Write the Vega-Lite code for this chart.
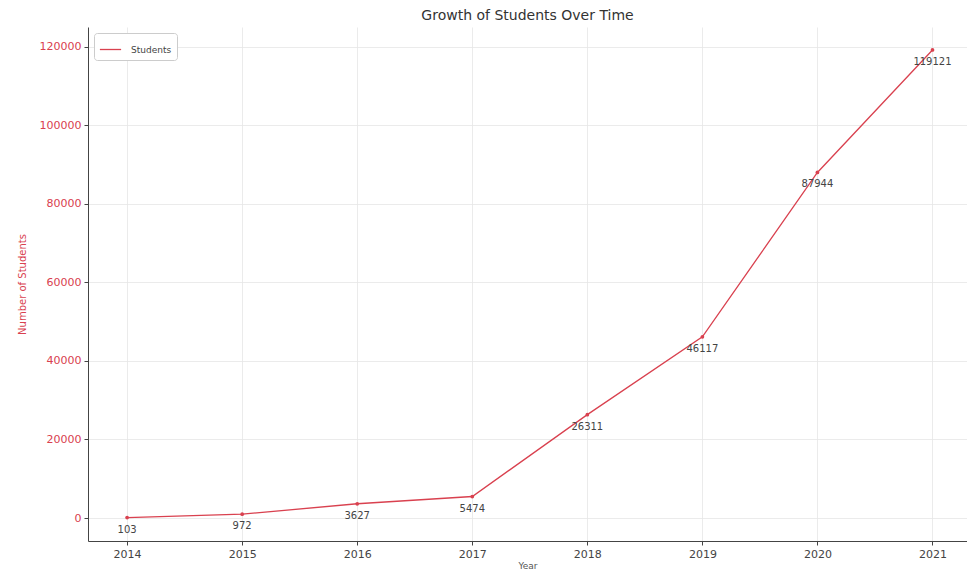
{
  "$schema": "https://vega.github.io/schema/vega-lite/v6.json",
  "autosize": {"type": "none"},
  "padding": {"left": 88, "top": 27, "right": 0, "bottom": 31},
  "width": 879,
  "height": 514,
  "background": "white",
  "config": {
    "font": "DejaVu Sans",
    "view": {"stroke": null},
    "axis": {"gridColor": "#e6e6e6", "gridWidth": 0.8, "domainColor": "#444", "tickColor": "#444", "labelFont": "DejaVu Sans", "titleFont": "DejaVu Sans", "titleFontWeight": "normal"}
  },
  "title": {"text": "Growth of Students Over Time", "fontSize": 14, "fontWeight": "normal", "color": "#333", "font": "DejaVu Sans", "anchor": "middle", "offset": 4},
  "data": {"values": [
    {"Year": 2014, "Students": 103},
    {"Year": 2015, "Students": 972},
    {"Year": 2016, "Students": 3627},
    {"Year": 2017, "Students": 5474},
    {"Year": 2018, "Students": 26311},
    {"Year": 2019, "Students": 46117},
    {"Year": 2020, "Students": 87944},
    {"Year": 2021, "Students": 119121}
  ]},
  "encoding": {
    "x": {"field": "Year", "type": "quantitative",
      "scale": {"domain": [2013.66, 2021.3], "nice": false, "zero": false},
      "axis": {"values": [2014, 2015, 2016, 2017, 2018, 2019, 2020, 2021], "format": "d", "title": "Year", "titleFontSize": 9, "titleColor": "#555", "titlePadding": 2, "labelFontSize": 11, "labelColor": "#444", "tickSize": 4, "labelPadding": 3}},
    "y": {"field": "Students", "type": "quantitative",
      "scale": {"domain": [-5848, 124972], "nice": false, "zero": false},
      "axis": {"values": [0, 20000, 40000, 60000, 80000, 100000, 120000], "format": "d", "title": "Number of Students", "titleFontSize": 10, "titleColor": "#d9414f", "titlePadding": 12, "labelFontSize": 11, "labelColor": "#d9414f", "tickSize": 4, "labelPadding": 3}}
  },
  "layer": [
    {"mark": {"type": "line", "strokeWidth": 1.3, "point": {"filled": true, "size": 14, "color": "#a8283a"}},
     "encoding": {"color": {"datum": "Students", "type": "nominal",
       "scale": {"range": ["#d9414f"]},
       "legend": {"title": null, "orient": "top-left", "offset": 6, "padding": 5, "strokeColor": "#ccc", "fillColor": "white", "cornerRadius": 3, "labelFontSize": 9, "labelColor": "#444", "labelOffset": 9, "symbolType": "stroke", "symbolSize": 450, "symbolStrokeWidth": 1.3}}}},
    {"mark": {"type": "text", "dy": 12, "fontSize": 10, "color": "#444", "font": "DejaVu Sans"},
     "encoding": {"text": {"field": "Students", "type": "quantitative", "format": "d"}}}
  ]
}
